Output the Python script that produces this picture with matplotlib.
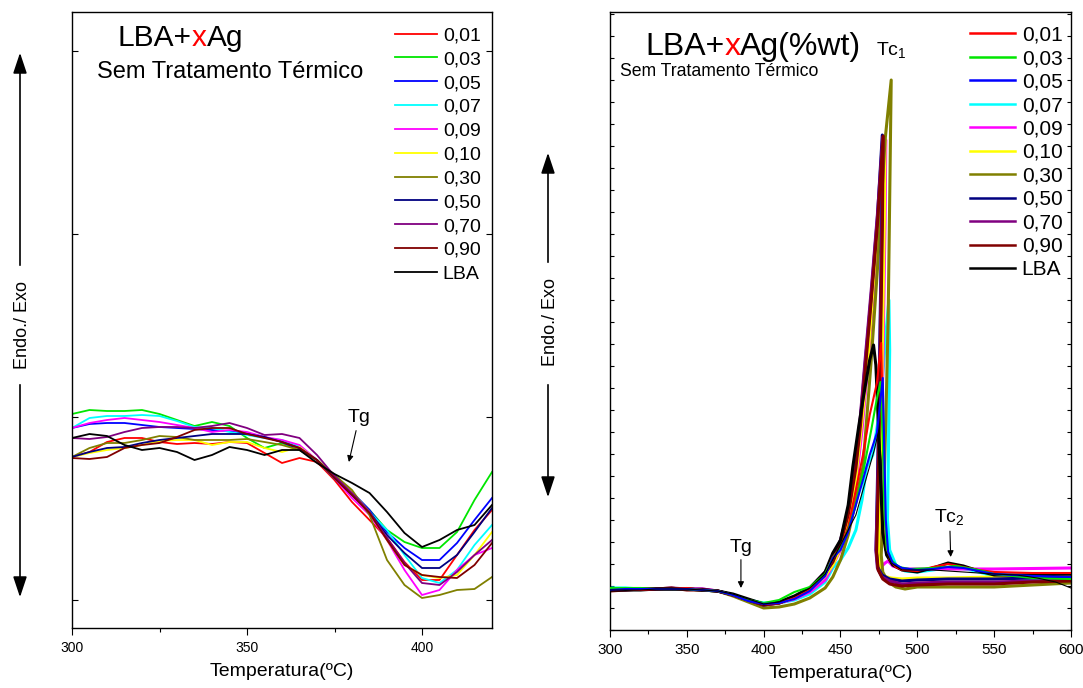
import matplotlib
matplotlib.use('Agg')
import matplotlib.pyplot as plt
from matplotlib.patches import FancyArrowPatch
from matplotlib.ticker import MultipleLocator
import numpy as np

plt.rcParams['font.family'] = ['Liberation Sans', 'DejaVu Sans']
plt.rcParams['mathtext.fontset'] = 'custom'
plt.rcParams['mathtext.rm'] = 'Liberation Sans'
plt.rcParams['mathtext.default'] = 'regular'

labels = ['0,01', '0,03', '0,05', '0,07', '0,09', '0,10', '0,30', '0,50', '0,70', '0,90', 'LBA']
colors = ['#ff0000', '#00e600', '#0000ff', '#00ffff', '#ff00ff', '#ffff00',
          '#808000', '#000080', '#800080', '#800000', '#000000']

# ---- left panel: temperature grid (C) and signal (a.u.)
t_left = [300, 305, 310, 315, 320, 325, 330, 335, 340, 345, 350, 355, 360,
          365, 370, 375, 380, 385, 390, 395, 400, 405, 410, 415, 420]
l_001 = [171, 176, 186, 190, 190, 186, 184, 185, 184, 186, 185, 175, 165, 170, 166, 148, 126, 108, 90, 66, 48, 48, 73, 98, 118]
l_003 = [214, 218, 217, 217, 218, 214, 208, 202, 206, 202, 190, 180, 185, 178, 168, 150, 135, 118, 98, 86, 80, 80, 96, 128, 156]
l_005 = [200, 204, 205, 205, 203, 201, 200, 199, 198, 197, 195, 191, 186, 179, 168, 150, 136, 118, 96, 80, 68, 68, 85, 108, 130]
l_007 = [200, 210, 212, 212, 213, 212, 207, 201, 200, 196, 193, 190, 188, 181, 168, 150, 133, 116, 98, 73, 50, 45, 58, 83, 103]
l_009 = [200, 205, 208, 210, 208, 206, 203, 200, 196, 198, 196, 191, 188, 183, 168, 150, 130, 113, 88, 58, 33, 38, 58, 73, 80]
l_010 = [171, 175, 178, 180, 183, 187, 188, 188, 183, 186, 186, 180, 176, 181, 168, 153, 136, 116, 88, 63, 53, 50, 53, 73, 96]
l_030 = [171, 180, 185, 185, 188, 192, 191, 188, 188, 188, 189, 186, 183, 178, 168, 153, 138, 113, 68, 43, 30, 33, 38, 39, 51]
l_050 = [171, 176, 180, 181, 185, 188, 190, 192, 194, 194, 194, 191, 186, 180, 168, 150, 133, 116, 93, 75, 60, 60, 73, 96, 120]
l_070 = [190, 189, 191, 196, 200, 201, 201, 200, 202, 205, 200, 193, 194, 190, 173, 152, 135, 116, 90, 65, 45, 43, 56, 73, 88]
l_090 = [170, 169, 171, 180, 183, 185, 191, 198, 200, 200, 194, 190, 186, 180, 168, 150, 133, 115, 88, 63, 53, 51, 50, 63, 85]
l_lba = [190, 194, 192, 183, 178, 180, 176, 168, 173, 181, 178, 173, 178, 178, 165, 154, 145, 135, 116, 95, 81, 88, 98, 103, 123]

# ---- right panel: each series has its own temperatures (sample T overshoots at the peak)
tb = [300, 310, 320, 330, 340, 350, 360, 370, 380, 390, 400, 410, 420, 430, 440]
r_001_t = tb + [445, 450, 455, 460, 464.6, 469, 473.7, 476.5, 477.5, 478.5, 479.5, 482, 486, 490, 500, 510, 520, 530, 540, 550, 575, 600]
r_001_y = [40, 41, 40, 41, 41, 42, 40, 39, 35, 30, 26, 27, 32, 40, 55,
           73, 82, 103, 140, 175, 215, 247, 287, 210, 130, 85, 70, 63, 60, 59, 63, 66, 63, 60, 58, 57, 57]
r_003_t = tb + [445, 450, 455, 460, 465, 470, 473.5, 476, 477.5, 478.5, 480, 483, 488, 495, 510, 525, 540, 550, 575, 600]
r_003_y = [42, 42, 42, 41, 41, 41, 40, 39, 35, 30, 27, 30, 38, 43, 56,
           72, 82, 100, 125, 160, 200, 230, 248, 190, 120, 82, 70, 63, 61, 62, 64, 60, 56, 52, 51]
r_005_t = tb + [445, 450, 455, 460, 464.6, 469, 473.7, 477.5, 478.5, 479.5, 481, 484, 490, 500, 510, 520, 530, 540, 550, 575, 600]
r_005_y = [40, 41, 41, 41, 41, 41, 40, 39, 35, 29, 26, 27, 31, 39, 54,
           72, 80, 98, 125, 150, 175, 197, 252, 180, 110, 78, 67, 62, 60, 61, 63, 62, 59, 56, 54, 53]
r_007_t = tb + [445, 450, 455, 460, 464, 467, 471, 474, 477, 479.6, 481.5, 482, 481.2, 480.6, 482, 486, 492, 500, 510, 523, 535, 550, 575, 600]
r_007_y = [42, 42, 41, 41, 41, 41, 40, 39, 35, 30, 27, 27, 30, 36, 48,
           62, 70, 82, 100, 130, 163, 175, 205, 245, 297, 330, 280, 180, 110, 80, 65, 59, 58, 60, 63, 60, 54, 51, 50]
r_009_t = tb + [445, 450, 455, 460, 464, 468, 472, 476, 479.5, 479, 478, 477, 476, 475.5, 477, 479, 481, 484, 490, 500, 550, 600]
r_009_y = [40, 41, 41, 41, 41, 41, 41, 39, 35, 30, 26, 27, 31, 38, 50,
           65, 80, 105, 145, 200, 270, 350, 425, 490, 410, 310, 210, 130, 80, 64, 67, 69, 64, 61, 61, 61, 62]
r_010_t = tb + [445, 450, 455, 460, 464, 468, 472, 476, 479, 478.5, 477.5, 476.5, 475.5, 475, 476, 478, 483, 490, 500, 520, 550, 575, 600]
r_010_y = [40, 41, 41, 41, 41, 41, 40, 39, 35, 30, 26, 27, 32, 40, 54,
           65, 82, 108, 152, 210, 275, 360, 440, 492, 410, 310, 210, 130, 80, 62, 54, 52, 51, 52, 52, 53, 54, 55]
r_030_t = tb + [445, 450, 455, 460, 464.6, 468, 470, 474, 479, 483, 482, 481, 479.5, 478, 476.5, 477.5, 481, 486, 492, 500, 520, 550, 575, 600]
r_030_y = [40, 41, 41, 41, 41, 41, 40, 39, 34, 28, 22, 23, 26, 32, 42,
           53, 70, 95, 130, 163, 230, 270, 360, 490, 550, 430, 310, 210, 130, 75, 58, 48, 43, 41, 43, 43, 43, 45, 47]
r_050_t = tb + [445, 450, 455, 460, 463, 466, 470, 474, 477.2, 476.8, 475.8, 474.8, 473.8, 473.2, 474.2, 477, 482, 490, 500, 520, 550, 575, 600]
r_050_y = [40, 41, 41, 41, 41, 41, 40, 39, 35, 30, 25, 27, 33, 41, 57,
           69, 89, 118, 167, 212, 265, 335, 412, 495, 410, 310, 210, 130, 80, 63, 55, 51, 49, 50, 51, 51, 52, 53]
r_070_t = tb + [445, 450, 455, 460, 463, 466, 470, 474, 477.5, 477, 476, 475, 474, 473, 474, 477, 482, 490, 500, 520, 550, 575, 600]
r_070_y = [40, 40, 41, 41, 42, 41, 41, 39, 35, 30, 25, 27, 33, 42, 58,
           70, 90, 120, 170, 215, 270, 340, 415, 493, 410, 310, 210, 130, 80, 62, 53, 49, 46, 47, 48, 48, 49, 50]
r_090_t = tb + [445, 450, 455, 460, 463, 466, 470, 474, 477.8, 477.3, 476.3, 475.3, 474.3, 473.5, 474.5, 477.5, 482, 490, 500, 520, 550, 575, 600]
r_090_y = [39, 40, 41, 41, 42, 40, 40, 39, 35, 30, 25, 27, 33, 41, 57,
           68, 87, 115, 162, 205, 258, 330, 405, 494, 410, 310, 210, 130, 78, 60, 51, 46, 44, 45, 46, 46, 48, 49]
r_lba_t = tb + [445, 450, 455, 458, 462, 464.6, 469, 471.5, 473, 474, 475.5, 477.5, 480, 484, 490, 500, 510, 520, 530, 540, 550, 575, 600]
r_lba_y = [40, 40, 40, 41, 41, 41, 40, 39, 36, 31, 26, 28, 34, 42, 58,
           77, 90, 125, 163, 205, 230, 270, 285, 265, 230, 170, 97, 75, 65, 60, 58, 62, 67, 64, 59, 55, 55, 56]
r_lba2_t = tb + [450, 455, 460, 467, 472, 475, 476.5, 477.5, 479, 483, 490, 510, 530, 550, 565, 578, 590, 600]
r_lba2_y = [40, 40, 40, 41, 41, 41, 40, 39, 36, 31, 26, 28, 34, 42, 56,
            85, 100, 115, 153, 180, 200, 170, 110, 80, 67, 60, 60, 58, 56, 55, 52, 48, 42]

left_series = [l_001, l_003, l_005, l_007, l_009, l_010, l_030, l_050, l_070, l_090, l_lba]
right_series = [(r_001_t, r_001_y), (r_003_t, r_003_y), (r_005_t, r_005_y), (r_007_t, r_007_y),
                (r_009_t, r_009_y), (r_010_t, r_010_y), (r_030_t, r_030_y), (r_050_t, r_050_y),
                (r_070_t, r_070_y), (r_090_t, r_090_y), (r_lba_t, r_lba_y)]
thick = [False, False, False, True, True, True, True, True, True, True, True]

W, H = 1083, 688
fig = plt.figure(figsize=(W / 100, H / 100), dpi=100)
ax1 = fig.add_axes([72 / W, (H - 628) / H, 420 / W, 616 / H])
ax2 = fig.add_axes([610 / W, (H - 630) / H, 461 / W, 618 / H])

for y, c, lab in zip(left_series, colors, labels):
    ax1.plot(t_left, y, color=c, lw=1.3, label=lab)

for (t, y), c, lab, tk in zip(right_series, colors, labels, thick):
    ax2.plot(t, y, color=c, lw=2.2 if tk else 1.5, label=lab, zorder=3 if not tk else 2)
ax2.plot(r_lba2_t, r_lba2_y, color='k', lw=0.8, zorder=3)

ax1.set_xlim(300, 420)
ax1.set_ylim(0, 616)
ax2.set_xlim(300, 600)
ax2.set_ylim(0, 618)

for ax in (ax1, ax2):
    ax.xaxis.set_major_locator(MultipleLocator(50))
    ax.xaxis.set_minor_locator(MultipleLocator(25))
    ax.tick_params(axis='x', which='major', direction='out', length=5, width=0.8, labelsize=10, pad=4)
    ax.tick_params(axis='x', which='minor', direction='out', length=3, width=0.8)
    ax.tick_params(axis='y', which='both', direction='in', left=True, right=True, labelleft=False)
    ax.set_xlabel('Temperatura(ºC)', fontsize=14, labelpad=6)
    for s in ax.spines.values():
        s.set_linewidth(1.0)

ax2.tick_params(axis='x', labelsize=11)
ax1.set_yticks(np.arange(28, 616, 183))
ax1.tick_params(axis='y', length=4, width=0.8)
ax2.yaxis.set_major_locator(MultipleLocator(22))
ax2.tick_params(axis='y', length=3, width=0.8)

# titles with red x
def title(ax, x, y, fs, tail):
    t1 = ax.text(x, y, 'LBA+', fontsize=fs, transform=ax.transAxes, va='baseline')
    t2 = ax.annotate('x', xy=(1, 0), xycoords=t1, fontsize=fs, color='red', va='bottom')
    ax.annotate(tail, xy=(1, 0), xycoords=t2, fontsize=fs, va='bottom')

title(ax1, 0.1095, 0.945, 21.5, 'Ag')
ax1.text(0.0595, 0.893, 'Sem Tratamento Térmico', fontsize=17, transform=ax1.transAxes, va='baseline')
title(ax2, 0.076, 0.930, 23, 'Ag(%wt)')
ax2.text(0.0217, 0.896, 'Sem Tratamento Térmico', fontsize=12.7, transform=ax2.transAxes, va='baseline')
ax2.text(0.577, 0.930, 'Tc$_1$', fontsize=14, transform=ax2.transAxes, va='baseline')

ap = dict(arrowstyle='-|>', color='k', lw=0.8, shrinkA=1, shrinkB=0, mutation_scale=9)
ax1.annotate('Tg', xy=(379.1, 166), xytext=(382, 210), fontsize=14, ha='center', va='center', arrowprops=ap)
ax2.annotate('Tg', xy=(385.2, 42), xytext=(385.2, 83), fontsize=14, ha='center', va='center', arrowprops=ap)
ax2.annotate('Tc$_2$', xy=(521.7, 73), xytext=(521, 113), fontsize=14, ha='center', va='center', arrowprops=ap)

leg_kw = dict(frameon=False, borderpad=0, borderaxespad=0, loc='upper left')
ax1.legend(bbox_to_anchor=(0.769, 0.976), fontsize=14, handlelength=2.16, handletextpad=0.3,
           labelspacing=0.32, **leg_kw)
leg2 = ax2.legend(bbox_to_anchor=(0.781, 0.978), fontsize=15, handlelength=2.15, handletextpad=0.33,
                  labelspacing=0.215, **leg_kw)
for h in leg2.get_lines():
    h.set_linewidth(1.8)

# Endo./Exo labels with arrows
def endo(x, ytop, y1, y2, ybot, yc):
    st = '-|>,head_length=0.9,head_width=0.3'
    fig.add_artist(FancyArrowPatch((x, y1), (x, ytop), transform=fig.transFigure, arrowstyle=st,
                                   mutation_scale=14, lw=1.2, color='k'))
    fig.add_artist(FancyArrowPatch((x, y2), (x, ybot), transform=fig.transFigure, arrowstyle=st,
                                   mutation_scale=14, lw=1.2, color='k'))
    fig.text(x + 0.002, yc, 'Endo./ Exo', rotation=90, fontsize=13, ha='center', va='center')

endo(20 / W, (H - 50) / H, (H - 268) / H, (H - 382) / H, (H - 600) / H, (H - 325) / H)
endo(548 / W, (H - 150) / H, (H - 265) / H, (H - 382) / H, (H - 500) / H, (H - 322) / H)

fig.savefig('out.png', dpi=100)
